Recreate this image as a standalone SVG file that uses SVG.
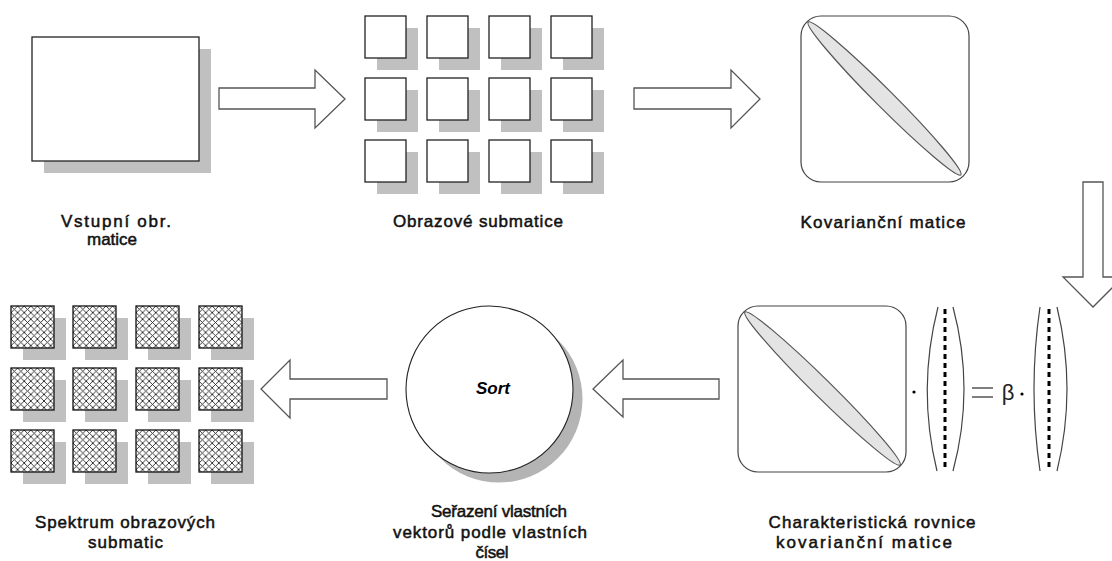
<svg xmlns="http://www.w3.org/2000/svg" width="1112" height="561" viewBox="0 0 1112 561">
  <style>
    .lbl { font-family: "Liberation Sans", Arial, sans-serif; font-size: 17px; fill: #111; stroke: #111; stroke-width: 0.5; text-anchor: middle; }
    .sort { font-family: "Liberation Sans", Arial, sans-serif; font-size: 17px; font-weight: bold; font-style: italic; fill: #000; text-anchor: middle; }
    .beta { font-family: "Liberation Sans", "DejaVu Sans", sans-serif; font-size: 22px; fill: #222; text-anchor: middle; }
    .shadow { fill: #c0c0c0; stroke: none; }
    .box { fill: #fff; stroke: #222; stroke-width: 1.3; }
    .hatch { fill: url(#crossHatch); stroke: #111; stroke-width: 1.3; }
    .arrow { fill: #fff; stroke: #555; stroke-width: 1.3; stroke-linejoin: miter; }
    .rmat { fill: #fff; stroke: #444; stroke-width: 1.2; }
    .diag { fill: #e4e4e4; stroke: #555; stroke-width: 1.2; }
    .brk { fill: none; stroke: #444; stroke-width: 1.2; }
    .vec { stroke: #000; stroke-width: 3; stroke-dasharray: 5 4; }
    .eq { stroke: #555; stroke-width: 1.5; }
  </style>
  <defs>
    <pattern id="crossHatch" patternUnits="userSpaceOnUse" width="6.6" height="6.6">
      <rect width="6.6" height="6.6" fill="#fff"/>
      <path d="M0,0 L6.6,6.6 M6.6,0 L0,6.6" stroke="#222" stroke-width="0.9"/>
    </pattern>
    <rect id="sq" width="41" height="42"/>
    <rect id="hsq" width="43" height="42"/>
  </defs>

  <rect width="1112" height="561" fill="#fff"/>

  <!-- input image matrix -->
  <g id="input">
    <rect class="shadow" x="44" y="49" width="167" height="124"/>
    <rect class="box" x="32" y="37" width="167" height="124"/>
    <text class="lbl" x="116" y="227" textLength="110" lengthAdjust="spacing">Vstupní obr.</text>
    <text class="lbl" x="112" y="245" textLength="50" lengthAdjust="spacing">matice</text>
  </g>

  <!-- grid of sub-matrices -->
  <g id="submatrices">
    <g class="shadow">
      <use href="#sq" x="377" y="28"/><use href="#sq" x="439" y="28"/><use href="#sq" x="501" y="28"/><use href="#sq" x="563" y="28"/>
      <use href="#sq" x="377" y="90"/><use href="#sq" x="439" y="90"/><use href="#sq" x="501" y="90"/><use href="#sq" x="563" y="90"/>
      <use href="#sq" x="377" y="152"/><use href="#sq" x="439" y="152"/><use href="#sq" x="501" y="152"/><use href="#sq" x="563" y="152"/>
    </g>
    <g class="box">
      <use href="#sq" x="365" y="16"/><use href="#sq" x="427" y="16"/><use href="#sq" x="489" y="16"/><use href="#sq" x="551" y="16"/>
      <use href="#sq" x="365" y="78"/><use href="#sq" x="427" y="78"/><use href="#sq" x="489" y="78"/><use href="#sq" x="551" y="78"/>
      <use href="#sq" x="365" y="140"/><use href="#sq" x="427" y="140"/><use href="#sq" x="489" y="140"/><use href="#sq" x="551" y="140"/>
    </g>
    <text class="lbl" x="478" y="227" textLength="170" lengthAdjust="spacing">Obrazové submatice</text>
  </g>

  <!-- covariance matrix -->
  <g id="covariance">
    <rect class="rmat" x="801" y="16" width="168" height="166" rx="20" ry="20"/>
    <ellipse class="diag" cx="884.5" cy="98.5" rx="108" ry="9" transform="rotate(45 884.5 98.5)"/>
    <text class="lbl" x="883" y="228" textLength="165" lengthAdjust="spacing">Kovarianční matice</text>
  </g>

  <!-- characteristic equation -->
  <g id="equation">
    <rect class="rmat" x="738" y="306" width="168" height="166" rx="20" ry="20"/>
    <ellipse class="diag" cx="822.5" cy="388.5" rx="109" ry="9" transform="rotate(44.6 822.5 388.5)"/>
    <circle cx="914" cy="392" r="1.6" fill="#000"/>
    <path class="brk" d="M938,307 Q917,389 937,471 M953,307 Q975,389 953,471"/>
    <line class="vec" x1="945" y1="309" x2="945" y2="470"/>
    <line class="eq" x1="972" y1="388" x2="993" y2="388"/>
    <line class="eq" x1="972" y1="397" x2="993" y2="397"/>
    <text class="beta" x="1008" y="400">β</text>
    <circle cx="1022" cy="394" r="1.6" fill="#000"/>
    <path class="brk" d="M1040,307 Q1028,389 1040,471 M1057,307 Q1077,389 1057,471"/>
    <line class="vec" x1="1049" y1="309" x2="1049" y2="470"/>
    <text class="lbl" x="872" y="528" textLength="207" lengthAdjust="spacing">Charakteristická rovnice</text>
    <text class="lbl" x="864" y="548" textLength="176" lengthAdjust="spacing">kovarianční matice</text>
  </g>

  <!-- sorting step -->
  <g id="sort">
    <circle cx="499" cy="399" r="83.5" fill="#b4b4b4"/>
    <circle cx="489.5" cy="389.5" r="83.5" fill="#fff" stroke="#222" stroke-width="1.1"/>
    <text class="sort" x="493" y="394">Sort</text>
    <text class="lbl" x="499" y="517" textLength="136" lengthAdjust="spacing">Seřazení vlastních</text>
    <text class="lbl" x="490" y="538" textLength="194" lengthAdjust="spacing">vektorů podle vlastních</text>
    <text class="lbl" x="492" y="558" textLength="33" lengthAdjust="spacing">čísel</text>
  </g>

  <!-- spectrum of sub-matrices -->
  <g id="spectrum">
    <g class="shadow">
      <use href="#hsq" x="23" y="318"/><use href="#hsq" x="85" y="318"/><use href="#hsq" x="148" y="318"/><use href="#hsq" x="211" y="318"/>
      <use href="#hsq" x="23" y="380"/><use href="#hsq" x="85" y="380"/><use href="#hsq" x="148" y="380"/><use href="#hsq" x="211" y="380"/>
      <use href="#hsq" x="23" y="442"/><use href="#hsq" x="85" y="442"/><use href="#hsq" x="148" y="442"/><use href="#hsq" x="211" y="442"/>
    </g>
    <g class="hatch">
      <use href="#hsq" x="11" y="306"/><use href="#hsq" x="73" y="306"/><use href="#hsq" x="136" y="306"/><use href="#hsq" x="199" y="306"/>
      <use href="#hsq" x="11" y="368"/><use href="#hsq" x="73" y="368"/><use href="#hsq" x="136" y="368"/><use href="#hsq" x="199" y="368"/>
      <use href="#hsq" x="11" y="430"/><use href="#hsq" x="73" y="430"/><use href="#hsq" x="136" y="430"/><use href="#hsq" x="199" y="430"/>
    </g>
    <text class="lbl" x="125" y="528" textLength="180" lengthAdjust="spacing">Spektrum obrazových</text>
    <text class="lbl" x="125.5" y="548" textLength="75" lengthAdjust="spacing">submatic</text>
  </g>

  <!-- block arrows between the steps -->
  <g id="connectors">
    <polygon class="arrow" points="219,88 315,88 315,70 345,99 315,128 315,109 219,109"/>
    <polygon class="arrow" points="634,88 731,88 731,70 760,99 731,128 731,109 634,109"/>
    <polygon class="arrow" points="1083,182 1103,182 1103,277 1123,277 1093,307 1063,277 1083,277"/>
    <polygon class="arrow" points="719,379 623,379 623,360 593,389 623,417 623,399 719,399"/>
    <polygon class="arrow" points="387,379 290,379 290,360 261,389 290,418 290,399 387,399"/>
  </g>
</svg>
